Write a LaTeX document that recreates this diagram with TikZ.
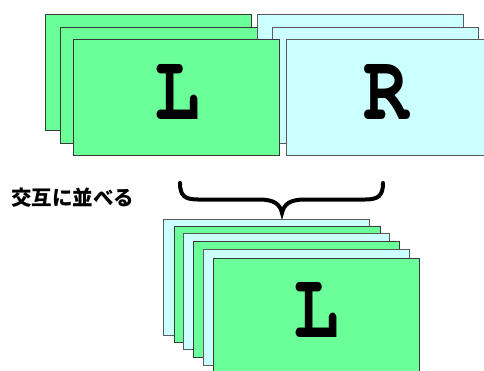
\documentclass[tikz,border=0pt]{standalone}
\usepackage[T1]{fontenc}
\usepackage{fontspec}
\usepackage{graphicx}
\newfontfamily\cjk{Noto Sans CJK JP}
\definecolor{lgreen}{HTML}{6BFF99}
\definecolor{lcyan}{HTML}{CCFFFF}
\definecolor{gedge}{HTML}{3A3A3A}
\definecolor{cedge}{HTML}{5A5A5A}
\newcommand\courb{\fontencoding{T1}\fontfamily{pcr}\fontseries{b}\fontshape{n}\fontsize{80}{80}\selectfont}
\newcommand\tallglyph[1]{\scalebox{0.95}[1.18]{#1}}
\begin{document}
\begin{tikzpicture}[x=1pt,y=-1pt,
  gbox/.style={fill=lgreen,draw=gedge,line width=1.1pt,minimum width=206pt,minimum height=116pt,inner sep=0pt,anchor=north west},
  cbox/.style={fill=lcyan,draw=cedge,line width=1.1pt,minimum width=206pt,minimum height=116pt,inner sep=0pt,anchor=north west},
  letter/.style={font=\courb,inner sep=0pt,anchor=base}]
\useasboundingbox (0,0) rectangle (484,370);
% top stacks
\node[gbox] (g1) at (45.3,14.3) {};
\node[gbox] (g2) at (60,26.7) {};
\node[cbox] (c1) at (256.7,14.3) {};
\node[cbox] (c2) at (271.7,26.7) {};
\node[gbox] (g3) at (73.3,39.3) {};
\node[cbox] (c3) at (286,39.3) {};
\node[letter] (lt) at (177,119.5) {\tallglyph{L}};
\node[letter] (rt) at (386,119.5) {\tallglyph{R}};
% label
\node[font=\cjk\bfseries\fontsize{20.5}{20.5}\selectfont,inner sep=0pt,anchor=west] (lab) at (11,198) {交互に並べる};
% brace
\coordinate (bl) at (180,183);
\coordinate (bt) at (282,213);
\coordinate (br) at (383,183);
\draw[line width=4pt,line cap=round] (bl) .. controls (180,196) and (185,199.5) .. (198,199.5) -- (259,199.5) .. controls (274,199.5) and (280,204) .. (bt) .. controls (284,204) and (290,199.5) .. (305,199.5) -- (365,199.5) .. controls (378,199.5) and (383,196) .. (br);
% bottom stack
\node[cbox] (b1) at (163.3,218.7) {};
\node[gbox] (b2) at (174,226) {};
\node[cbox] (b3) at (182.7,232.5) {};
\node[gbox] (b4) at (192.7,241) {};
\node[cbox] (b5) at (202.7,248.7) {};
\node[gbox] (b6) at (212.7,258) {};
\node[letter] (lb) at (316.7,337) {\tallglyph{L}};
\end{tikzpicture}
\end{document}
